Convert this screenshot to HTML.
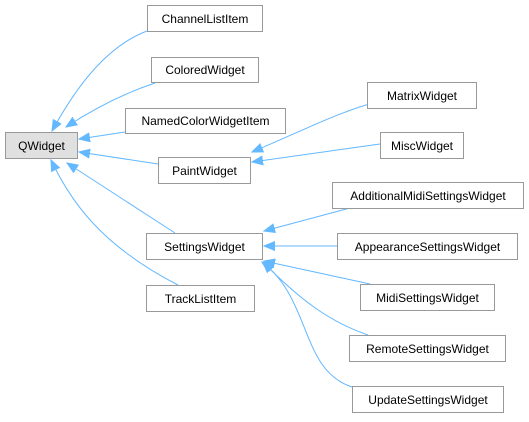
<!DOCTYPE html>
<html><head><meta charset="utf-8"><style>
body{margin:0;background:#fff;width:529px;height:417px;overflow:hidden}
</style></head><body>
<svg width="529" height="417" xmlns="http://www.w3.org/2000/svg" font-family="Liberation Sans, sans-serif" font-size="12">
<defs><marker id="a" markerWidth="12" markerHeight="10" refX="11" refY="5" orient="auto" markerUnits="userSpaceOnUse"><path d="M0,0.5 L11,5 L0,9.5 Z" fill="#63b8ff" stroke="#63b8ff"/></marker></defs>
<g fill="none" stroke="#63b8ff" stroke-width="1" marker-end="url(#a)">
<path d="M147,31 C110,45 80,80 52,131"/>
<path d="M155,83 C125,93 95,108 66,127"/>
<path d="M125,132 L79,139"/>
<path d="M158,164 L79,152"/>
<path d="M175,233 L67,163"/>
<path d="M178,285 C100,245 70,200 51,160"/>
<path d="M380,101 C340,111 300,132 252,152"/>
<path d="M380,144 L252,162"/>
<path d="M350,208 L264,231"/>
<path d="M337,246 L264,246"/>
<path d="M370,284 L264,261"/>
<path d="M368,335 C330,322 300,300 263,262"/>
<path d="M352,387 C300,370 312,300 262,262"/>
</g>
<g stroke="#999" stroke-width="1" fill="#fff">
<rect x="5.5" y="132.5" width="72" height="26" fill="#e0e0e0"/>
<rect x="147.5" y="5.5" width="115" height="26"/>
<rect x="151.5" y="57.5" width="107" height="25"/>
<rect x="125.5" y="108.5" width="160" height="25"/>
<rect x="158.5" y="157.5" width="92" height="26"/>
<rect x="367.5" y="82.5" width="109" height="26"/>
<rect x="380.5" y="132.5" width="83" height="26"/>
<rect x="146.5" y="233.5" width="116" height="26"/>
<rect x="146.5" y="285.5" width="108" height="26"/>
<rect x="332.5" y="182.5" width="191" height="26"/>
<rect x="337.5" y="233.5" width="180" height="26"/>
<rect x="360.5" y="284.5" width="134" height="26"/>
<rect x="349.5" y="335.5" width="156" height="26"/>
<rect x="352.5" y="386.5" width="151" height="26"/>
</g>
<g fill="#000" text-anchor="middle">
<text x="41.5" y="150">QWidget</text>
<text x="205" y="23">ChannelListItem</text>
<text x="205" y="74">ColoredWidget</text>
<text x="205.5" y="125">NamedColorWidgetItem</text>
<text x="204.5" y="175">PaintWidget</text>
<text x="422" y="100">MatrixWidget</text>
<text x="422" y="150">MiscWidget</text>
<text x="204.5" y="251">SettingsWidget</text>
<text x="200.5" y="303">TrackListItem</text>
<text x="428" y="200">AdditionalMidiSettingsWidget</text>
<text x="427.5" y="251">AppearanceSettingsWidget</text>
<text x="427.5" y="302">MidiSettingsWidget</text>
<text x="427.5" y="353">RemoteSettingsWidget</text>
<text x="428" y="404">UpdateSettingsWidget</text>
</g>
</svg>
</body></html>
